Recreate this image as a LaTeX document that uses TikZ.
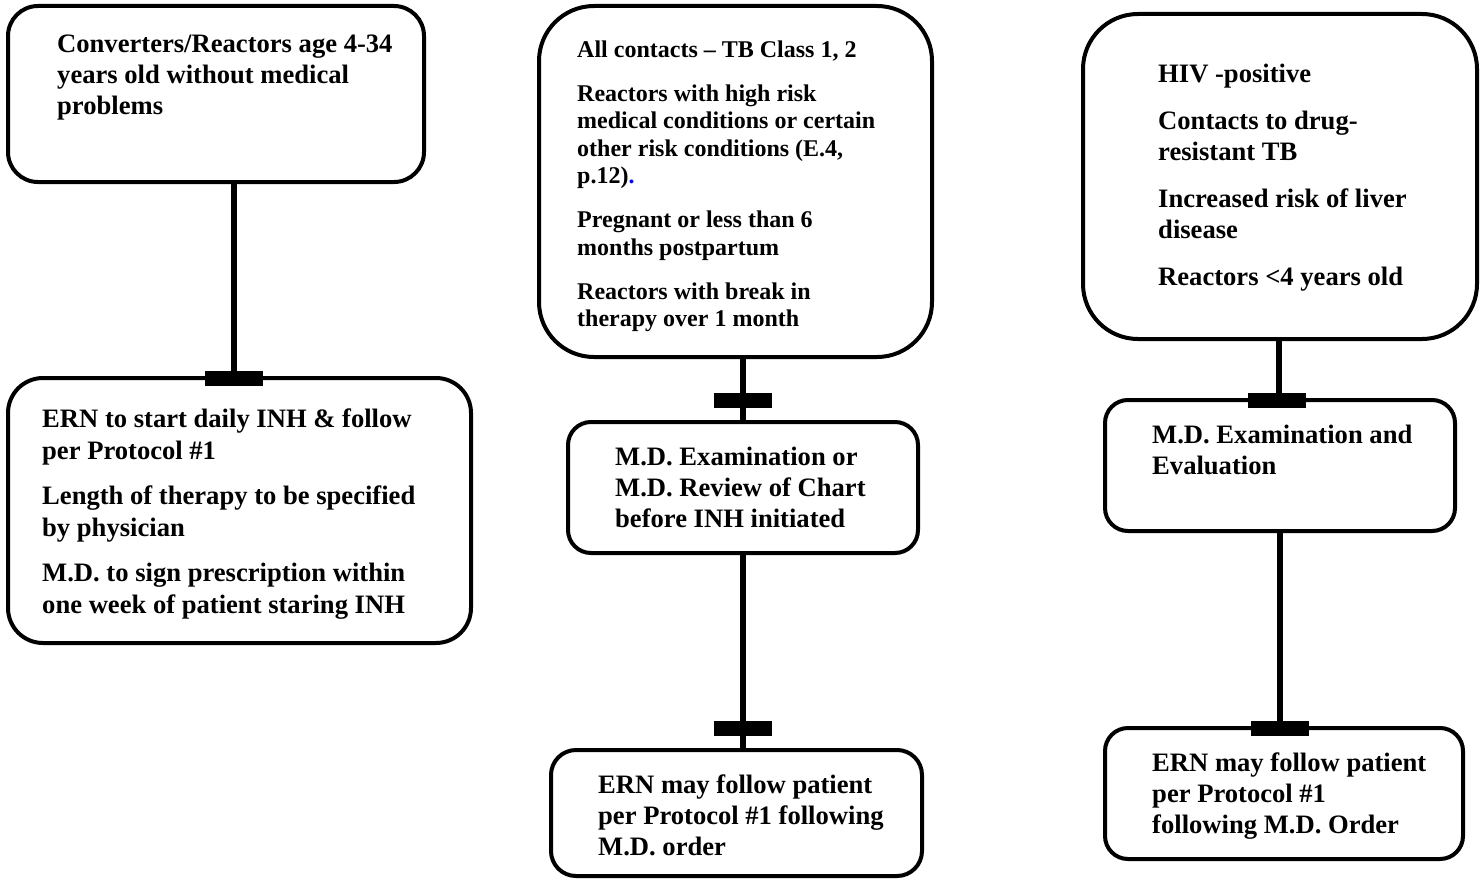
\documentclass[tikz,border=0pt]{standalone}
\usepackage{fontspec}
\setmainfont{Liberation Serif}
\begin{document}
\begin{tikzpicture}[x=1pt,y=-1pt,
  rbox/.style={draw, line width=4pt, rounded corners=#1, inner sep=0pt, rectangle},
  txt/.style={anchor=north west, inner sep=0pt, align=left, font=\fontsize{26.6}{31}\selectfont\bfseries},
  txtsmall/.style={anchor=north west, inner sep=0pt, align=left, font=\fontsize{24}{27.5}\selectfont\bfseries},
  link/.style={line width=5.5pt, black},
  bar/.style={fill=black, draw=none, inner sep=0pt, minimum width=58pt, minimum height=15pt, rectangle}]
\useasboundingbox (0,0) rectangle (1483,880);
\newcommand{\st}{\rule{0pt}{22pt}}
\newcommand{\sts}{\rule{0pt}{20pt}}
% boxes
\node[rbox=30pt, minimum width=416pt, minimum height=176pt] (A) at (216,94) {};
\node[rbox=35pt, minimum width=463pt, minimum height=265pt] (B) at (239.5,510.5) {};
\node[rbox=55pt, minimum width=393pt, minimum height=351pt] (C) at (735.5,181.5) {};
\node[rbox=23pt, minimum width=350pt, minimum height=131pt] (D) at (743,487.5) {};
\node[rbox=25pt, minimum width=371pt, minimum height=126pt] (E) at (736.5,813) {};
\node[rbox=55pt, minimum width=394pt, minimum height=325pt] (F) at (1280,176.5) {};
\node[rbox=23pt, minimum width=350pt, minimum height=131pt] (G) at (1280,465.5) {};
\node[rbox=23pt, minimum width=358pt, minimum height=131pt] (H) at (1284,793.5) {};
% texts
\node[txt] (tA) at (57,30) {\st Converters/Reactors age 4-34\\years old without medical\\problems};
\node[txt, font=\fontsize{26.6}{32}\selectfont\bfseries] (tB) at (42,405) {\st ERN to start daily INH \& follow\\per Protocol \#1\\[13pt]Length of therapy to be specified\\by physician\\[13pt]M.D. to sign prescription within\\one week of patient staring INH};
\node[txtsmall] (tC) at (577,37) {\sts All contacts -- TB Class 1, 2\\[16.5pt]Reactors with high risk\\medical conditions or certain\\other risk conditions (E.4,\\p.12)\textcolor{blue}{.}\\[16.5pt]Pregnant or less than 6\\months postpartum\\[16.5pt]Reactors with break in\\therapy over 1 month};
\node[txt] (tD) at (615,443) {\st M.D. Examination or\\M.D. Review of Chart\\before INH initiated};
\node[txt] (tE) at (598,771) {\st ERN may follow patient\\per Protocol \#1 following\\M.D. order};
\node[txt] (tF) at (1158,60) {\st HIV -positive\\[16pt]Contacts to drug-\\resistant TB\\[16pt]Increased risk of liver\\disease\\[16pt]Reactors <4 years old};
\node[txt] (tG) at (1152,421) {\st M.D. Examination and\\Evaluation};
\node[txt] (tH) at (1152,749) {\st ERN may follow patient\\per Protocol \#1\\following M.D. Order};
% connector x positions
\coordinate (xa) at (234,0);
\coordinate (xf) at (1279,0);
% connectors
\draw[link] (A.south -| xa) -- (B.north -| xa);
\draw[link] (D.north |- C.south) -- (D.north);
\draw[link] (D.south) -- (D.south |- E.north);
\draw[link] (F.south -| xf) -- (G.north -| xf);
\draw[link] (G.south) -- (G.south |- H.north);
% bars
\node[bar] (b1) at (234,378.5) {};
\node[bar] (b2) at (742.5,400.5) {};
\node[bar] (b3) at (742.5,728.5) {};
\node[bar] (b4) at (1277,400.5) {};
\node[bar] (b5) at (1280,728.5) {};
\end{tikzpicture}
\end{document}
